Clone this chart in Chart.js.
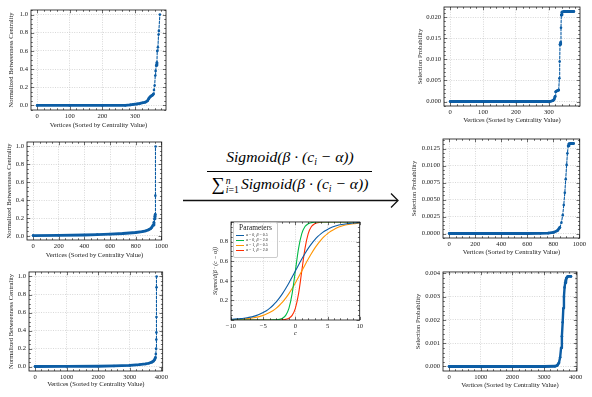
<!DOCTYPE html>
<html><head><meta charset="utf-8">
<script src="https://cdn.jsdelivr.net/npm/chart.js@4.4.0/dist/chart.umd.min.js"></script>
<style>
body{margin:0;background:#fff;width:592px;height:397px;overflow:hidden;position:relative;font-family:'Liberation Serif',serif}
canvas{position:absolute}
.fx{position:absolute;left:190px;width:200px;text-align:center;font-style:italic;font-size:15.6px;color:#000;white-space:nowrap}
#num{top:147px;line-height:20px}
#den{top:174px;line-height:20px}
#bar{position:absolute;left:207px;width:165px;top:171px;border-top:1.1px solid #000}
.sub{font-size:9.8px;position:relative;top:3px}
.sumlim{display:inline-block;vertical-align:middle;font-size:9.8px;line-height:9px;text-align:left;font-style:normal;margin:0 2px 0 1px}
.sumlim i{font-style:italic}
#legend{position:absolute;left:233px;top:222px;width:43px;height:34px;border:0.6px solid #ccc;border-radius:2px;background:rgba(255,255,255,0.85);font-size:4px;color:#222}
#legend .t{font-size:7.4px;text-align:center;line-height:8px;margin-top:1px}
#legend .r{height:5px;line-height:5px;white-space:nowrap}
#legend .r span.l{display:inline-block;width:8px;height:0;border-top:1px solid;vertical-align:middle;margin:0 2px 0 2px}
</style></head><body>
<div class="fx" id="num">Sigmoid(β · (c<span class="sub">i</span> − α))</div>
<div id="bar"></div>
<div class="fx" id="den"><span style="font-style:normal;font-size:18.5px;vertical-align:-1px">∑</span><span class="sumlim"><i>n</i><br><i>i</i>=1</span>Sigmoid(β · (c<span class="sub">i</span> − α))</div>
<svg style="position:absolute;left:0;top:0" width="592" height="397">
  <line x1="183" y1="200.5" x2="397" y2="200.5" stroke="#111" stroke-width="1.3"/>
  <polyline points="391,193.5 398,200.5 391,207.5" fill="none" stroke="#111" stroke-width="1.3"/>
</svg>
<canvas id="c1"></canvas><canvas id="c2"></canvas><canvas id="c3"></canvas>
<canvas id="c4"></canvas><canvas id="c5"></canvas><canvas id="c6"></canvas>
<canvas id="cs"></canvas>
<div id="legend">
  <div class="t">Parameters</div>
  <div class="r"><span class="l" style="color:#0C5DA5"></span><i>α</i> = 0, <i>β</i> = 0.5</div>
  <div class="r"><span class="l" style="color:#00B945"></span><i>α</i> = 0, <i>β</i> = 2.0</div>
  <div class="r"><span class="l" style="color:#FF9500"></span><i>α</i> = 1, <i>β</i> = 0.5</div>
  <div class="r"><span class="l" style="color:#FF2C00"></span><i>α</i> = 1, <i>β</i> = 2.0</div>
</div>
<script>
// ---------- data ----------
const p1X = [0,100,200,270,285,295,305,315,325,332,338,342,346,350,354,356,358,360,362,363,365,367,368,370,372,373,376];
const p1Y = [0,0,0,0.001,0.006,0.012,0.016,0.022,0.03,0.037,0.05,0.075,0.095,0.105,0.115,0.125,0.17,0.22,0.33,0.38,0.44,0.47,0.6,0.64,0.78,0.82,1.0];
const p2X = [0,200,400,500,600,700,800,850,880,900,915,925,935,942,947,950,952,953,955];
const p2Y = [0.004,0.006,0.01,0.015,0.02,0.027,0.038,0.047,0.057,0.068,0.08,0.095,0.12,0.15,0.19,0.22,0.24,0.45,1.0];
const p3X = [0,1000,2000,2500,3000,3300,3500,3600,3700,3750,3790,3810,3825,3835,3841,3844,3846,3848,3850];
const p3Y = [0.002,0.003,0.005,0.008,0.014,0.022,0.03,0.038,0.05,0.062,0.08,0.1,0.14,0.2,0.3,0.38,0.55,0.88,1.0];
const p4X = [0,100,200,300,306,312,316,319,321,324,327,330,332,333,334,336,337,338,340,345,360,376];
const p4Y = [0,0,0,0,0.00005,0.0002,0.0005,0.0012,0.0023,0.0025,0.0026,0.0027,0.0055,0.0095,0.0135,0.014,0.0175,0.0205,0.0212,0.02135,0.02135,0.02135];
const p5X = [0,200,400,600,700,760,800,830,850,862,872,880,888,895,902,908,914,920,930,955];
const p5Y = [0,0,0,0,0.00002,0.00006,0.00015,0.0004,0.0009,0.0016,0.0027,0.0042,0.006,0.008,0.0101,0.0118,0.0129,0.0132,0.01325,0.01325];
const p6X = [0,1000,2000,3000,3350,3420,3470,3510,3540,3565,3590,3610,3630,3650,3670,3690,3710,3740,3770,3850];
const p6Y = [0,0,0,0,0.00001,0.00005,0.00015,0.0004,0.0008,0.0013,0.0019,0.0025,0.003,0.0034,0.0036,0.0037,0.0038,0.00386,0.00387,0.00387];

const leftTicksY = [0,0.2,0.4,0.6,0.8,1.0];
const p1TicksX = [0,100,200,300];
const p2TicksX = [0,200,400,600,800,1000];
const p3TicksX = [0,1000,2000,3000,4000];
const p4TicksY = [0,0.005,0.01,0.015,0.02];
const p5TicksY = [0,0.0025,0.005,0.0075,0.01,0.0125];
const p6TicksY = [0,0.001,0.002,0.003,0.004];

const sigC = [-10,-9.5,-9,-8.5,-8,-7.5,-7,-6.5,-6,-5.5,-5,-4.5,-4,-3.5,-3,-2.5,-2,-1.5,-1,-0.5,0,0.5,1,1.5,2,2.5,3,3.5,4,4.5,5,5.5,6,6.5,7,7.5,8,8.5,9,9.5,10];
const sigA0B05 = [0.0067,0.0086,0.011,0.0141,0.018,0.023,0.029,0.037,0.047,0.06,0.076,0.095,0.119,0.148,0.182,0.223,0.269,0.321,0.378,0.438,0.5,0.562,0.622,0.679,0.731,0.777,0.818,0.852,0.881,0.905,0.924,0.94,0.953,0.963,0.971,0.977,0.982,0.986,0.989,0.991,0.993];
const sigA0B2 = [0,0,0,0,0,0,0,0,0,0,0,0.0001,0.0003,0.0009,0.0025,0.0067,0.018,0.047,0.119,0.269,0.5,0.731,0.881,0.953,0.982,0.993,0.9975,0.9991,0.9997,0.9999,1,1,1,1,1,1,1,1,1,1,1];
const sigA1B05 = [0.0041,0.0052,0.0067,0.0086,0.011,0.0141,0.018,0.023,0.029,0.037,0.047,0.06,0.076,0.095,0.119,0.148,0.182,0.223,0.269,0.321,0.378,0.438,0.5,0.562,0.622,0.679,0.731,0.777,0.818,0.852,0.881,0.905,0.924,0.94,0.953,0.963,0.971,0.977,0.982,0.986,0.989];
const sigA1B2 = [0,0,0,0,0,0,0,0,0,0,0,0,0,0.0001,0.0003,0.0009,0.0025,0.0067,0.018,0.047,0.119,0.269,0.5,0.731,0.881,0.953,0.982,0.993,0.9975,0.9991,0.9997,0.9999,1,1,1,1,1,1,1,1,1];
const sigTicksX = [-10,-5,0,5,10];
const sigTicksY = [0.2,0.4,0.6,0.8];

// ---------- styling ----------
const BLUE = '#0C5DA5';
const FAM = "'Liberation Serif', serif";
const TXT = '#1a1a1a';

const framePlugin = {
  id: 'frameTicks',
  afterDraw(chart) {
    const {ctx, chartArea: a, scales} = chart;
    ctx.save();
    ctx.strokeStyle = '#111';
    ctx.lineWidth = 0.6;
    const draw = (scale, horiz) => {
      const vals = scale.ticks.map(t => t.value);
      const step = vals[1] - vals[0];
      const mant = step / Math.pow(10, Math.floor(Math.log10(step) + 1e-9));
      const nd = (Math.abs(mant - 1) < 1e-6 || Math.abs(mant - 5) < 1e-6) ? 5 : 4;
      const minor = step / nd;
      const s = Math.ceil(scale.min / minor - 1e-9), e = Math.floor(scale.max / minor + 1e-9);
      for (let k = s; k <= e; k++) {
        const v = k * minor;
        const major = Math.abs(v / step - Math.round(v / step)) < 1e-6;
        const len = major ? 3.2 : 1.8;
        const p = Math.round(scale.getPixelForValue(v)) + 0.5;
        ctx.beginPath();
        if (horiz) { ctx.moveTo(p, a.bottom); ctx.lineTo(p, a.bottom - len); ctx.moveTo(p, a.top); ctx.lineTo(p, a.top + len); }
        else { ctx.moveTo(a.left, p); ctx.lineTo(a.left + len, p); ctx.moveTo(a.right, p); ctx.lineTo(a.right - len, p); }
        ctx.stroke();
      }
    };
    draw(scales.x, true); draw(scales.y, false);
    ctx.lineWidth = 0.8;
    ctx.strokeRect(a.left, a.top, a.right - a.left, a.bottom - a.top);
    ctx.restore();
  }
};

function axisOpts(ticksArr, fmt, min, max, fitSize, horiz, title, titleFont, titlePad, tickPad) {
  return {
    type: 'linear', min, max,
    afterBuildTicks: s => { s.ticks = ticksArr.map(v => ({value: v})); },
    afterFit: s => { if (horiz) s.height = fitSize; else s.width = fitSize; },
    ticks: {font: {family: FAM, size: 6.6}, color: TXT, padding: tickPad, maxRotation: 0, autoSkip: false, callback: v => fmt(v)},
    grid: {color: '#bdbdbd', lineWidth: 0.6, drawTicks: false},
    border: {display: false, dash: [1, 1.4]},
    title: {display: true, text: title, font: titleFont, color: TXT, padding: titlePad}
  };
}

function place(id, box) {
  const c = document.getElementById(id);
  c.width = box.w; c.height = box.h;
  c.style.left = box.l + 'px'; c.style.top = box.t + 'px';
  c.style.width = box.w + 'px'; c.style.height = box.h + 'px';
  return c;
}

function isSteep(c) {
  const dx = Math.abs(c.p1.x - c.p0.x), dy = Math.abs(c.p1.y - c.p0.y);
  return dy > 3 * dx && dy > 3;
}

function makePlot(id, box, fr, xs, ys, xTicks, yTicks, yDec, yTitle, yTitleX, xTitleY, steepDashed) {
  const c = place(id, box);
  const xmax = xs[xs.length - 1];
  const ymin = Math.min(...ys), ymax = Math.max(...ys), yr = ymax - ymin;
  const tf = {family: FAM, size: 6.6};
  const lh = 6.6 * 1.2;
  new Chart(c, {
    type: 'line',
    data: {datasets: [{
      data: xs.map((x, i) => ({x, y: ys[i]})),
      borderColor: BLUE, backgroundColor: BLUE,
      pointRadius: 1.3, pointBorderWidth: 0, pointBackgroundColor: BLUE,
      borderWidth: 2.8, borderJoinStyle: 'round', borderCapStyle: 'round',
      segment: {
        borderWidth: s => isSteep(s) ? (steepDashed ? 1.1 : 2.4) : 2.8,
        borderDash: s => (isSteep(s) && steepDashed) ? [2.5, 1.5] : []
      }
    }]},
    options: {
      responsive: false, animation: false, devicePixelRatio: 1,
      layout: {padding: {top: fr.T - box.t, right: box.l + box.w - fr.R, left: 0, bottom: 0}},
      plugins: {legend: {display: false}, tooltip: {enabled: false}},
      scales: {
        x: axisOpts(xTicks, v => String(v), -0.05 * xmax, 1.05 * xmax, box.t + box.h - fr.B, true,
          'Vertices (Sorted by Centrality Value)', tf, {top: 0, bottom: box.t + box.h - xTitleY - lh / 2}, 2),
        y: axisOpts(yTicks, v => v.toFixed(yDec), ymin - 0.05 * yr, ymax + 0.05 * yr, fr.L - box.l, false,
          yTitle, tf, {top: yTitleX - box.l - lh / 2, bottom: 0}, 3)
      }
    },
    plugins: [framePlugin]
  });
}

const NBC = 'Normalized Betweenness Centrality', SP = 'Selection Probability';
makePlot('c1', {l:0,t:0,w:172,h:131}, {L:31,T:10,R:166,B:110}, p1X, p1Y, p1TicksX, leftTicksY, 1, NBC, 11, 125, true);
makePlot('c2', {l:0,t:130,w:170,h:133}, {L:27,T:142,R:163,B:240}, p2X, p2Y, p2TicksX, leftTicksY, 1, NBC, 9.5, 255.5, true);
makePlot('c3', {l:0,t:265,w:170,h:130}, {L:29,T:271,R:163,B:371}, p3X, p3Y, p3TicksX, leftTicksY, 1, NBC, 11.5, 384, true);
makePlot('c4', {l:395,t:0,w:193,h:128}, {L:444,T:7,R:580,B:106}, p4X, p4Y, p1TicksX, p4TicksY, 3, SP, 420, 120, true);
makePlot('c5', {l:395,t:130,w:193,h:130}, {L:443,T:139,R:580,B:238}, p5X, p5Y, p2TicksX, p5TicksY, 4, SP, 414, 252, true);
makePlot('c6', {l:395,t:265,w:193,h:130}, {L:443,T:271,R:577,B:371}, p6X, p6Y, p3TicksX, p6TicksY, 3, SP, 418, 385, false);

// ---------- sigmoid inset ----------
(function () {
  const box = {l:205,t:215,w:160,h:128}, fr = {L:231,T:221,R:360,B:320};
  const c = place('cs', box);
  const lh = 6 * 1.2;
  const mk = (ys, col) => ({data: sigC.map((x, i) => ({x, y: ys[i]})), borderColor: col, borderWidth: 1.1, pointRadius: 0, cubicInterpolationMode: 'monotone'});
  const minus = v => v < 0 ? '\u2212' + Math.abs(v) : String(v);
  new Chart(c, {
    type: 'line',
    data: {datasets: [mk(sigA0B05, '#0C5DA5'), mk(sigA0B2, '#00B945'), mk(sigA1B05, '#FF9500'), mk(sigA1B2, '#FF2C00')]},
    options: {
      responsive: false, animation: false, devicePixelRatio: 1,
      layout: {padding: {top: fr.T - box.t, right: box.l + box.w - fr.R, left: 0, bottom: 0}},
      plugins: {legend: {display: false}, tooltip: {enabled: false}},
      scales: {
        x: axisOpts(sigTicksX, minus, -10, 10, box.t + box.h - fr.B, true, 'c',
          {family: FAM, size: 6.6, style: 'italic'}, {top: 0, bottom: box.t + box.h - 334 - lh / 2}, 2),
        y: axisOpts(sigTicksY, v => v.toFixed(1), 0, 1, fr.L - box.l, false, 'Sigmoid(β · (c − α))',
          {family: FAM, size: 6, style: 'italic'}, {top: 215 - box.l - lh / 2, bottom: 0}, 3)
      }
    },
    plugins: [framePlugin]
  });
})();
</script>
</body></html>
